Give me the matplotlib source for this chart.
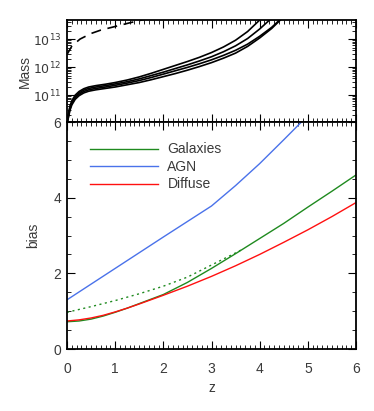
import numpy as np
import matplotlib
matplotlib.use("Agg")
import matplotlib.pyplot as plt
from matplotlib.ticker import MultipleLocator, LogLocator, NullFormatter, FixedLocator

# mass panel: log10(M)
z_mass = [0, 0.03, 0.06, 0.1, 0.17, 0.25, 0.35, 0.45, 0.6, 0.8, 1.0, 1.25, 1.5, 1.75,
	2.0, 2.25, 2.5, 2.75, 3.0, 3.25, 3.5, 3.75, 4.0, 4.25, 4.5]
logm_1 = [10.0, 10.35, 10.6, 10.8, 11.0, 11.13, 11.23, 11.29, 11.34, 11.39, 11.45, 11.54, 11.65, 11.78,
	11.92, 12.06, 12.2, 12.35, 12.52, 12.72, 12.96, 13.27, 13.68, 14.2, 14.8]
logm_2 = [10.0, 10.3, 10.55, 10.75, 10.95, 11.08, 11.18, 11.24, 11.29, 11.34, 11.4, 11.48, 11.58, 11.7,
	11.82, 11.95, 12.08, 12.22, 12.37, 12.55, 12.76, 13.02, 13.36, 13.75, 14.2]
logm_3 = [10.0, 10.25, 10.5, 10.7, 10.9, 11.03, 11.13, 11.19, 11.24, 11.29, 11.35, 11.43, 11.52, 11.63,
	11.75, 11.87, 11.99, 12.12, 12.26, 12.42, 12.6, 12.82, 13.1, 13.42, 13.82]
logm_4 = [10.0, 10.2, 10.45, 10.65, 10.85, 10.98, 11.08, 11.14, 11.19, 11.24, 11.29, 11.37, 11.45, 11.55,
	11.66, 11.77, 11.89, 12.02, 12.16, 12.32, 12.5, 12.74, 13.04, 13.38, 13.8]
z_dash = [0, 0.1, 0.27, 0.5, 0.7, 1.0, 1.3, 1.6, 2.0]
logm_dash = [12.45, 12.75, 13.0, 13.2, 13.32, 13.45, 13.58, 13.7, 13.85]

# bias panel
z_bias = [0, 0.25, 0.5, 0.75, 1, 1.25, 1.5, 2, 2.5, 3, 3.5, 4, 4.5, 5, 5.5, 6]
bias_gal = [0.72, 0.74, 0.79, 0.87, 0.97, 1.08, 1.2, 1.44, 1.76, 2.13, 2.52, 2.92, 3.32, 3.75, 4.17, 4.6]
bias_dif = [0.74, 0.77, 0.82, 0.89, 0.98, 1.08, 1.19, 1.42, 1.66, 1.92, 2.2, 2.5, 2.82, 3.15, 3.5, 3.87]
z_agn = [0, 1, 2, 3, 3.5, 4, 4.5, 5]
bias_agn = [1.3, 2.13, 2.96, 3.78, 4.32, 4.9, 5.53, 6.17]
z_dot = [0, 0.5, 1, 1.5, 2, 2.5, 3, 3.5, 3.65]
bias_dot = [0.97, 1.12, 1.28, 1.46, 1.66, 1.9, 2.22, 2.54, 2.64]

txt = '#3a3a3a'
plt.rcParams['font.family'] = ['Liberation Sans', 'DejaVu Sans']
plt.rcParams['font.size'] = 10
plt.rcParams['axes.linewidth'] = 1.3

fig = plt.figure(figsize=(3.74, 4.11), dpi=100)
ax1 = fig.add_axes([67/374, 1-122/411, 289/374, 102/411])
ax2 = fig.add_axes([67/374, 1-349/411, 289/374, 227/411])

for lm in (logm_1, logm_2, logm_3, logm_4):
	ax1.plot(z_mass, 10**np.array(lm), color='black', lw=1.2)
ax1.plot(z_dash, 10**np.array(logm_dash), color='black', lw=1.2, dashes=(6, 4))
ax1.set_yscale('log')
ax1.set_xlim(0, 6)
ax1.set_ylim(1.1e10, 4.8e13)
ax1.yaxis.set_major_locator(FixedLocator([1e11, 1e12, 1e13]))
ax1.yaxis.set_minor_locator(LogLocator(base=10, subs=np.arange(2, 10)))
ax1.yaxis.set_minor_formatter(NullFormatter())
ax1.set_yticklabels(['$10^{11}$', '$10^{12}$', '$10^{13}$'], fontsize=9)
ax1.set_xticklabels([])
ax1.set_ylabel('Mass', color=txt)
ax1.yaxis.set_label_coords(-0.12, 0.5)

ax2.plot(z_bias, bias_gal, color='#1f8a1f', lw=1.0, label='Galaxies')
ax2.plot(z_agn, bias_agn, color='#4a72ea', lw=1.0, label='AGN')
ax2.plot(z_bias, bias_dif, color='#ff1010', lw=1.0, label='Diffuse')
ax2.plot(z_dot, bias_dot, color='#1f8a1f', lw=1.0, ls=(0, (1.5, 2.5)))
ax2.set_xlim(0, 6)
ax2.set_ylim(0, 6)
ax2.yaxis.set_major_locator(MultipleLocator(2))
ax2.yaxis.set_minor_locator(MultipleLocator(0.5))
ax2.set_xlabel('z', color=txt, labelpad=4)
ax2.set_ylabel('bias', color=txt)
ax2.yaxis.set_label_coords(-0.093, 0.5)
ax2.legend(loc='upper left', bbox_to_anchor=(0.035, 0.965), frameon=False,
	handlelength=4.9, handletextpad=0.7, labelspacing=0.25, labelcolor=txt)

for ax in (ax1, ax2):
	ax.xaxis.set_major_locator(MultipleLocator(1))
	ax.xaxis.set_minor_locator(MultipleLocator(0.1))
	ax.tick_params(which='both', direction='in', top=True, right=True, colors='black', labelcolor=txt)
	ax.tick_params(axis='y', pad=4)
	ax.tick_params(axis='x', pad=9)
	ax.tick_params(which='major', length=6, width=0.8)
	ax.tick_params(which='minor', length=3, width=0.6)

fig.savefig('out.png', dpi=100)
